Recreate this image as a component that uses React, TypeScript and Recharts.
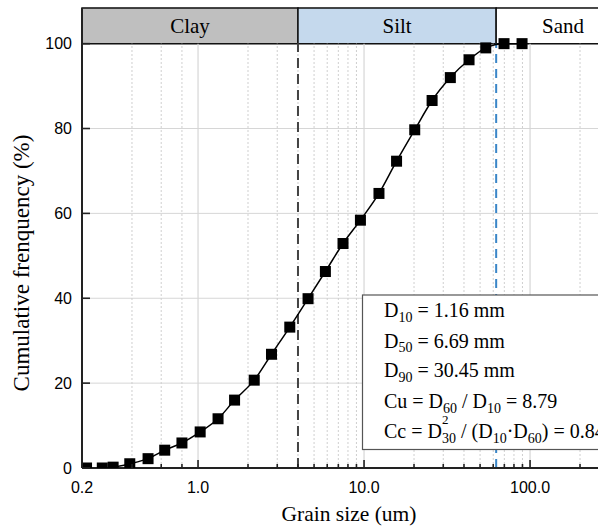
import {
  LineChart,
  Line,
  XAxis,
  YAxis,
  CartesianGrid,
  ReferenceArea,
  ReferenceLine,
} from "recharts";

// grain size (um) and cumulative frequency (%)
const grainSize = [
  0.213, 0.265, 0.308, 0.388, 0.5, 0.63, 0.8, 1.03, 1.32, 1.66, 2.18, 2.77, 3.57,
  4.6, 5.85, 7.47, 9.51, 12.3, 15.7, 20.2, 25.7, 33.1, 42.9, 54.1, 69.7, 89.5,
];
const cumulative = [
  0, 0, 0.2, 1.0, 2.2, 4.2, 5.9, 8.5, 11.6, 16.0, 20.7, 26.8, 33.2, 39.9, 46.3,
  52.9, 58.4, 64.7, 72.3, 79.7, 86.6, 92.0, 96.2, 99.0, 100, 100,
];

const xLabelTicks = [0.2, 1, 10, 100];
const xLabels = ["0.2", "1.0", "10.0", "100.0"];
const majorX = [1, 10, 100];
const minorX = [0.4, 0.6, 0.8, 2, 3, 4, 5, 6, 7, 8, 9, 20, 30, 40, 50, 60, 70, 80, 90, 200, 300];
const yTicks = [0, 20, 40, 60, 80, 100];

const bandNames = ["Clay", "Silt", "Sand"];
const bandEdges = [0.2, 4, 62.5, 400];
const bandFills = ["#bfbfbf", "#c5d9ed", "#ffffff"];

const clayLimit = 4;
const siltLimit = 62.5;

const SERIF = "'Times New Roman', 'Liberation Serif', serif";
const SANS = "Arial, 'Liberation Sans', sans-serif";

const data = grainSize.map((g, i) => ({ size: g, freq: cumulative[i] }));
const allXTicks = [...xLabelTicks, ...minorX.filter((v) => !xLabelTicks.includes(v)), ...majorX.filter((v) => !xLabelTicks.includes(v))].sort((a, b) => a - b);

const XTick = (props: any) => {
  const { x, y, payload } = props;
  const v = payload.value;
  const li = xLabelTicks.indexOf(v);
  const major = li >= 0 || majorX.includes(v);
  return (
    <g>
      <line x1={x} x2={x} y1={y} y2={y - (major ? 8 : 4)} stroke="#222" strokeWidth={1.6} />
      {li >= 0 && (
        <text x={x} y={y + 24.5} textAnchor="middle" fill="#000" fontSize={16} fontFamily={SANS}>
          {xLabels[li]}
        </text>
      )}
    </g>
  );
};

const YTick = (props: any) => {
  const { x, y, payload } = props;
  return (
    <g>
      <line x1={x} x2={x + 8} y1={y} y2={y} stroke="#222" strokeWidth={1.6} />
      <text x={x - 10} y={y + 5.7} textAnchor="end" fill="#000" fontSize={16} fontFamily={SANS}>
        {payload.value}
      </text>
    </g>
  );
};

const Square = (p: any) => (
  <rect key={`sq${p.index}`} x={p.cx - 5.5} y={p.cy - 5.5} width={11} height={11} fill="#000" />
);

export default function App() {
  return (
    <div
      style={{
        position: "fixed",
        left: 0,
        top: 0,
        width: 598,
        height: 531,
        overflow: "hidden",
        background: "#fff",
      }}
    >
      <LineChart
        width={650}
        height={531}
        data={data}
        margin={{ top: 8, right: 20, bottom: 0, left: 22 }}
      >
        <CartesianGrid vertical={false} stroke="#d6d6d6" strokeWidth={1} />
        {minorX.map((v) => (
          <ReferenceLine
            key={`mn${v}`}
            segment={[{ x: v, y: 0 }, { x: v, y: 100 }]}
            stroke="#cfcfcf"
            strokeDasharray="2 2"
            strokeWidth={1}
          />
        ))}
        {majorX.map((v) => (
          <ReferenceLine
            key={`mj${v}`}
            segment={[{ x: v, y: 0 }, { x: v, y: 100 }]}
            stroke="#d6d6d6"
            strokeWidth={1.2}
          />
        ))}
        {bandNames.map((n, i) => (
          <ReferenceArea
            key={n}
            x1={bandEdges[i]}
            x2={bandEdges[i + 1]}
            y1={100}
            y2={108.4}
            fill={bandFills[i]}
            fillOpacity={1}
            stroke="#111"
            strokeWidth={1.5}
            label={{ value: n, position: "center", fill: "#000", fontSize: 21, fontFamily: SERIF }}
          />
        ))}
        <ReferenceLine
          segment={[{ x: clayLimit, y: 0 }, { x: clayLimit, y: 100 }]}
          stroke="#444"
          strokeWidth={2}
          strokeDasharray="10 6"
        />
        <ReferenceLine
          segment={[{ x: siltLimit, y: 0 }, { x: siltLimit, y: 100 }]}
          stroke="#3a86c8"
          strokeWidth={2}
          strokeDasharray="9 6"
        />
        <XAxis
          dataKey="size"
          type="number"
          scale="log"
          domain={[0.2, 400]}
          allowDataOverflow
          ticks={allXTicks}
          interval={0}
          height={63}
          tickSize={0}
          tickMargin={0}
          tickLine={false}
          axisLine={{ stroke: "#222", strokeWidth: 2 }}
          tick={XTick}
        />
        <YAxis
          type="number"
          domain={[0, 108.4]}
          allowDataOverflow
          ticks={yTicks}
          interval={0}
          width={60}
          tickSize={0}
          tickMargin={0}
          tickLine={false}
          axisLine={{ stroke: "#222", strokeWidth: 2 }}
          tick={YTick}
        />
        <Line
          type="monotone"
          dataKey="freq"
          stroke="#000"
          strokeWidth={1.5}
          dot={Square}
          activeDot={false}
          isAnimationActive={false}
        />
      </LineChart>
      <svg
        width={598}
        height={531}
        style={{ position: "absolute", left: 0, top: 0, pointerEvents: "none" }}
      >
        <text
          transform="translate(29,263) rotate(-90)"
          textAnchor="middle"
          fontSize={23}
          fontFamily={SERIF}
          fill="#000"
        >
          Cumulative frenquency (%)
        </text>
        <text x={349} y={521} textAnchor="middle" fontSize={21.5} fontFamily={SERIF} fill="#000">
          Grain size (um)
        </text>
        <rect x={362.5} y={295} width={300} height={154.5} fill="#fff" stroke="#555" strokeWidth={1.2} />
        <g fontFamily={SERIF} fontSize={20} fill="#000">
          <text x={384} y={317.3}>
            D<tspan fontSize={14} dy={4.5}>10</tspan>
            <tspan dy={-4.5}> = 1.16 mm</tspan>
          </text>
          <text x={384} y={347.6}>
            D<tspan fontSize={14} dy={4.5}>50</tspan>
            <tspan dy={-4.5}> = 6.69 mm</tspan>
          </text>
          <text x={384} y={377.3}>
            D<tspan fontSize={14} dy={4.5}>90</tspan>
            <tspan dy={-4.5}> = 30.45 mm</tspan>
          </text>
          <text x={384} y={408.3}>
            Cu = D<tspan fontSize={14} dy={4.5}>60</tspan>
            <tspan dy={-4.5}> / D</tspan>
            <tspan fontSize={14} dy={4.5}>10</tspan>
            <tspan dy={-4.5}> = 8.79</tspan>
          </text>
          <text x={384} y={438.3}>
            Cc = D<tspan fontSize={13} dy={-14}>2</tspan>
            <tspan fontSize={14} dx={-6.5} dy={19}>30</tspan>
            <tspan dy={-5}> / (D</tspan>
            <tspan fontSize={14} dy={4.5}>10</tspan>
            <tspan dy={-4.5}>·D</tspan>
            <tspan fontSize={14} dy={4.5}>60</tspan>
            <tspan dy={-4.5}>) = 0.84</tspan>
          </text>
        </g>
      </svg>
    </div>
  );
}
